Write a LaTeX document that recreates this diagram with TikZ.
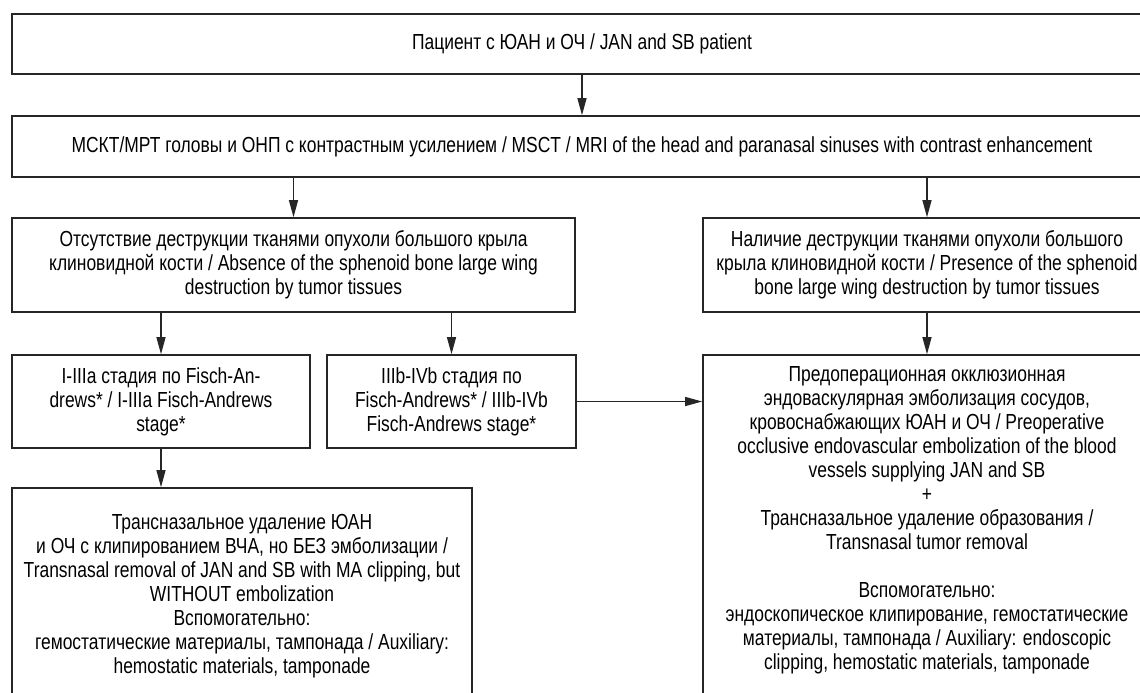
\documentclass[tikz,border=0pt]{standalone}
\usepackage{fontspec}
\setmainfont[FakeStretch=0.8]{Liberation Sans}
\usetikzlibrary{arrows.meta}

\begin{document}
\begin{tikzpicture}[x=0.5pt,y=-0.5pt,
    box/.style={draw=black!85,line width=0.8pt,align=center,inner sep=0pt,font=\fontsize{10.9}{12}\selectfont},
    arr/.style={draw=black!85,line width=0.6pt,-{Triangle[length=8.5pt,width=4.5pt]}}]
    \clip (0,0) rectangle (1140,692);
    % boxes
    \node[box,minimum width=570pt,minimum height=30pt] (patient) at (582,44) {Пациент с ЮАН и ОЧ / JAN and SB patient};
    \node[box,minimum width=570pt,minimum height=30.5pt] (imaging) at (582,146.5) {МСКТ/МРТ головы и ОНП с контрастным усилением / MSCT / MRI of the head and paranasal sinuses with contrast enhancement};
    \node[box,minimum width=281.5pt,minimum height=47pt] (absence) at (293.5,265) {Отсутствие деструкции тканями опухоли большого крыла\\клиновидной кости / Absence of the sphenoid bone large wing\\destruction by tumor tissues};
    \node[box,minimum width=224pt,minimum height=47pt] (presence) at (927,265) {Наличие деструкции тканями опухоли большого\\крыла клиновидной кости / Presence of the sphenoid\\bone large wing destruction by tumor tissues};
    \node[box,minimum width=149pt,minimum height=46.5pt] (stageA) at (161,401.5) {I-IIIa стадия по Fisch-An-\\drews* / I-IIIa Fisch-Andrews\\stage*};
    \node[box,minimum width=124.5pt,minimum height=46.5pt] (stageB) at (451.5,401.5) {IIIb-IVb стадия по\\Fisch-Andrews* / IIIb-IVb\\Fisch-Andrews stage*};
    \node[box,minimum width=224pt,minimum height=175pt] (endo) at (927,530) {Предоперационная окклюзионная\\эндоваскулярная эмболизация сосудов,\\кровоснабжающих ЮАН и ОЧ / Preoperative\\occlusive endovascular embolization of the blood\\vessels supplying JAN and SB\\+\\Трансназальное удаление образования /\\Transnasal tumor removal\\ \mbox{}\\Вспомогательно:\\эндоскопическое клипирование, гемостатические\\материалы, тампонада / Auxiliary: endoscopic\\clipping, hemostatic materials, tamponade\\ \mbox{}};
    \node[box,minimum width=230pt,minimum height=108.5pt] (removal) at (242,596.5) {Трансназальное удаление ЮАН\\и ОЧ с клипированием ВЧА, но БЕЗ эмболизации /\\Transnasal removal of JAN and SB with MA clipping, but\\WITHOUT embolization\\Вспомогательно:\\гемостатические материалы, тампонада / Auxiliary:\\hemostatic materials, tamponade};
    % arrows
    \draw[arr] (patient) -- (imaging);
    \draw[arr] (imaging.south -| absence.north) -- (absence.north);
    \draw[arr] (imaging.south -| presence.north) -- (presence.north);
    \draw[arr] (absence.south -| stageA.north) -- (stageA.north);
    \draw[arr] (absence.south -| stageB.north) -- (stageB.north);
    \draw[arr] (presence.south) -- (endo.north);
    \draw[arr] (stageB.east) -- (stageB.east -| endo.west);
    \draw[arr] (stageA.south) -- (stageA.south |- removal.north);
\end{tikzpicture}
\end{document}
